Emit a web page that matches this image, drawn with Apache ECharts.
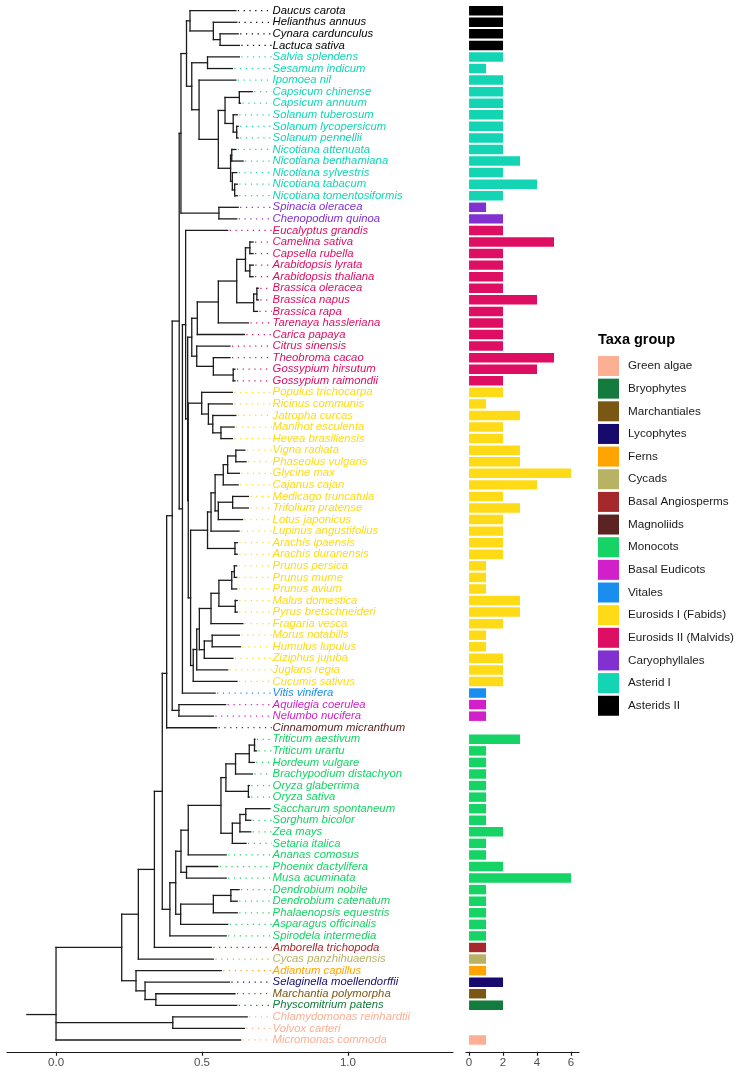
<!DOCTYPE html>
<html><head><meta charset="utf-8">
<script src="https://cdn.jsdelivr.net/npm/echarts@6/dist/echarts.min.js"></script>
<style>html,body{margin:0;padding:0;background:#fff}#c{width:737px;height:1072px}</style>
</head><body><div id="c"></div>
<script>
// ---------------- DATA ----------------
const taxa = ["Daucus carota","Helianthus annuus","Cynara cardunculus","Lactuca sativa","Salvia splendens","Sesamum indicum","Ipomoea nil","Capsicum chinense","Capsicum annuum","Solanum tuberosum","Solanum lycopersicum","Solanum pennellii","Nicotiana attenuata","Nicotiana benthamiana","Nicotiana sylvestris","Nicotiana tabacum","Nicotiana tomentosiformis","Spinacia oleracea","Chenopodium quinoa","Eucalyptus grandis","Camelina sativa","Capsella rubella","Arabidopsis lyrata","Arabidopsis thaliana","Brassica oleracea","Brassica napus","Brassica rapa","Tarenaya hassleriana","Carica papaya","Citrus sinensis","Theobroma cacao","Gossypium hirsutum","Gossypium raimondii","Populus trichocarpa","Ricinus communis","Jatropha curcas","Manihot esculenta","Hevea brasiliensis","Vigna radiata","Phaseolus vulgaris","Glycine max","Cajanus cajan","Medicago truncatula","Trifolium pratense","Lotus japonicus","Lupinus angustifolius","Arachis ipaensis","Arachis duranensis","Prunus persica","Prunus mume","Prunus avium","Malus domestica","Pyrus bretschneideri","Fragaria vesca","Morus notabilis","Humulus lupulus","Ziziphus jujuba","Juglans regia","Cucumis sativus","Vitis vinifera","Aquilegia coerulea","Nelumbo nucifera","Cinnamomum micranthum","Triticum aestivum","Triticum urartu","Hordeum vulgare","Brachypodium distachyon","Oryza glaberrima","Oryza sativa","Saccharum spontaneum","Sorghum bicolor","Zea mays","Setaria italica","Ananas comosus","Phoenix dactylifera","Musa acuminata","Dendrobium nobile","Dendrobium catenatum","Phalaenopsis equestris","Asparagus officinalis","Spirodela intermedia","Amborella trichopoda","Cycas panzhihuaensis","Adiantum capillus","Selaginella moellendorffii","Marchantia polymorpha","Physcomitrium patens","Chlamydomonas reinhardtii","Volvox carteri","Micromonas commoda"];

const groupNames = ["Green algae","Bryophytes","Marchantiales","Lycophytes","Ferns","Cycads","Basal Angiosperms","Magnoliids","Monocots","Basal Eudicots","Vitales","Eurosids I (Fabids)","Eurosids II (Malvids)","Caryophyllales","Asterid I","Asterids II"];
const groupColors = ["#FDAF93","#137B3D","#7B5716","#160B6D","#FFA400","#B8B264","#A5282D","#5C2323","#15D465","#D21FCA","#198EEF","#FFDA17","#DE0E63","#8031D0","#13D5B4","#000000"];

// group index (into groupNames) of each taxon, in taxa order
const taxaGroup = [15,15,15,15, 14,14,14,14,14,14,14,14,14,14,14,14,14, 13,13,
  12,12,12,12,12,12,12,12,12,12,12,12,12,12,
  11,11,11,11,11,11,11,11,11,11,11,11,11,11,11,11,11,11,11,11,11,11,11,11,11,11,
  10, 9,9, 7,
  8,8,8,8,8,8,8,8,8,8,8,8,8,8,8,8,8,8,
  6,5,4,3,2,1,0,0,0];

const geneCount = [2,2,2,2, 2,1,2,2,2,2,2,2,2,3,2,4,2, 1,2,
  2,5,2,2,2,2,4,2,2,2,2,5,4,2,
  2,1,3,2,2,3,3,6,4,2,3,2,2,2,2,1,1,1,3,3,2,1,1,2,2,2,
  1, 1,1, 0,
  3,1,1,1,1,1,1,1,2,1,1,2,6,1,1,1,1,1,
  1,1,1,2,1,2,0,0,1];

// tree (absolute node depths after ':')
const cladeAsteridsII = "(Daucus carota:0.616,(Helianthus annuus:0.619,(Cynara cardunculus:0.624,Lactuca sativa:0.628)n:0.562)n:0.539)n:0.459";
const cladeAsteridI = "((Salvia splendens:0.628,Sesamum indicum:0.604)n:0.519,(Ipomoea nil:0.616,(((Capsicum chinense:0.672,Capsicum annuum:0.632)n:0.628,(Solanum tuberosum:0.621,(Solanum lycopersicum:0.624,Solanum pennellii:0.624)n:0.619)n:0.607)n:0.579,((Nicotiana attenuata:0.616,Nicotiana benthamiana:0.641)n:0.602,(Nicotiana sylvestris:0.619,(Nicotiana tabacum:0.621,Nicotiana tomentosiformis:0.621)n:0.612)n:0.604)n:0.598)n:0.556)n:0.490)n:0.465";
const cladeCaryo = "(Spinacia oleracea:0.624,Chenopodium quinoa:0.619)n:0.558";
const cladeMalvids = "((((((Camelina sativa:0.675,Capsella rubella:0.675)n:0.664,(Arabidopsis lyrata:0.676,Arabidopsis thaliana:0.675)n:0.664)n:0.649,((Brassica oleracea:0.693,Brassica napus:0.693)n:0.688,Brassica rapa:0.690)n:0.677)n:0.619,Tarenaya hassleriana:0.659)n:0.556,Carica papaya:0.645)n:0.484,(Citrus sinensis:0.596,(Theobroma cacao:0.596,(Gossypium hirsutum:0.613,Gossypium raimondii:0.613)n:0.607)n:0.539)n:0.482)n:0.465";
const cladeMalpighiales = "(Populus trichocarpa:0.604,(Ricinus communis:0.604,(Jatropha curcas:0.616,(Manihot esculenta:0.610,Hevea brasiliensis:0.604)n:0.565)n:0.537)n:0.522)n:0.499";
const cladeFabales = "((((((Vigna radiata:0.647,Phaseolus vulgaris:0.651)n:0.616,Glycine max:0.628)n:0.588,Cajanus cajan:0.624)n:0.573,((Medicago truncatula:0.659,Trifolium pratense:0.659)n:0.605,Lotus japonicus:0.639)n:0.556)n:0.545,Lupinus angustifolius:0.627)n:0.531,(Arachis ipaensis:0.621,Arachis duranensis:0.621)n:0.613)n:0.519";
const cladeRosales = "(((((((Prunus persica:0.619,Prunus mume:0.619)n:0.611,Prunus avium:0.619)n:0.602,(Malus domestica:0.621,Pyrus bretschneideri:0.621)n:0.614)n:0.558,Fragaria vesca:0.640)n:0.531,((Morus notabilis:0.628,Humulus lupulus:0.632)n:0.535,Ziziphus jujuba:0.606)n:0.508)n:0.491,Juglans regia:0.588)n:0.482,Cucumis sativus:0.620)n:0.470";
const cladeMonocots = "(((((((((Triticum aestivum:0.681,Triticum urartu:0.687)n:0.680,Hordeum vulgare:0.679)n:0.662,Brachypodium distachyon:0.673)n:0.615,(Oryza glaberrima:0.662,Oryza sativa:0.662)n:0.659)n:0.582,(((Saccharum spontaneum:0.733,Sorghum bicolor:0.667)n:0.650,Zea mays:0.667)n:0.630,Setaria italica:0.651)n:0.604)n:0.565,Ananas comosus:0.583)n:0.453,(Phoenix dactylifera:0.554,Musa acuminata:0.583)n:0.447)n:0.428,(((Dendrobium nobile:0.627,Dendrobium catenatum:0.621)n:0.599,Phalaenopsis equestris:0.621)n:0.539,Asparagus officinalis:0.588)n:0.427)n:0.410,Spirodela intermedia:0.583)n:0.390";
const cladeFernsBryo = "(Adiantum capillus:0.566,(Selaginella moellendorffii:0.594,(Marchantia polymorpha:0.613,Physcomitrium patens:0.619)n:0.342)n:0.305)n:0.274";
const cladeAlgae = "(Chlamydomonas reinhardtii:0.655,Volvox carteri:0.645)n:0.400,Micromonas commoda:0.632";

const treeNewick =
 "((((((((((" + cladeAsteridsII + "," + cladeAsteridI + ")n:0.447," + cladeCaryo + ")n:0.428," +
 "((Eucalyptus grandis:0.588,(" + cladeMalvids + ",(" + cladeMalpighiales + ",(" + cladeFabales + "," + cladeRosales + ")n:0.461)n:0.453)n:0.451)n:0.444,Vitis vinifera:0.545)n:0.433)A:0.422," +
 "(Aquilegia coerulea:0.581,Nelumbo nucifera:0.539)n:0.421)B:0.398," +
 "Cinnamomum micranthum:0.550)C:0.379," + cladeMonocots + ")D:0.364," +
 "Amborella trichopoda:0.532)E:0.337,Cycas panzhihuaensis:0.539)F:0.282," + cladeFernsBryo + ")G:0.225," +
 cladeAlgae + ")ROOT:0";

const nodeYOverride = {C: 58.3, ROOT: 87.8};   // internal node heights (tip rows)
const rootEdgeStart = -0.1;
const tipAlignX = 0.739;
const labelX = 0.742;
const treeTicks = [0, 0.5, 1.0];
const barTicks = [0, 2, 4, 6];

// ---------------- TREE LAYOUT ----------------
function parseNewick(s){
  let i = 0;
  function node(){
    const n = {children: []};
    if (s[i] === '('){
      i++;
      n.children.push(node());
      while (s[i] === ','){ i++; n.children.push(node()); }
      i++;
    }
    let name = '';
    while (i < s.length && !':,()'.includes(s[i])) name += s[i++];
    n.name = name.trim();
    if (s[i] === ':'){ i++; let num = ''; while (i < s.length && !',()'.includes(s[i])) num += s[i++]; n.x = parseFloat(num); }
    return n;
  }
  return node();
}
const root = parseNewick(treeNewick);
const segs = [];   // [x1,y1,x2,y2]
const tips = [];   // [tipX, row, groupIdx]
function layout(n){
  if (!n.children.length){
    const idx = taxa.indexOf(n.name);
    n.y = idx + 1;
    tips.push([n.x, n.y, taxaGroup[idx]]);
    return;
  }
  n.children.forEach(layout);
  const ys = n.children.map(c => c.y);
  const lo = Math.min(...ys), hi = Math.max(...ys);
  n.y = (nodeYOverride[n.name] !== undefined) ? nodeYOverride[n.name] : (lo + hi) / 2;
  segs.push([n.x, lo, n.x, hi]);
  n.children.forEach(c => segs.push([n.x, c.y, c.x, c.y]));
}
layout(root);
segs.push([rootEdgeStart, root.y, root.x, root.y]);

// ---------------- CHART ----------------
const chart = echarts.init(document.getElementById('c'), null, {renderer: 'canvas'});
const FONT = '"Liberation Sans", Arial, Helvetica, sans-serif';
const gridTop = 4.92, gridH = 1040.85;
const axisCommon = {
  axisLine: {show: true, lineStyle: {color: '#1a1a1a', width: 1.2}},
  axisTick: {show: true, length: 4, lineStyle: {color: '#1a1a1a', width: 1.2}},
  splitLine: {show: false},
  offset: 6
};

const barSeries = groupNames.map((g, gi) => ({
  name: g, type: 'bar', xAxisIndex: 1, yAxisIndex: 1, stack: 'cnt',
  barWidth: '82%', itemStyle: {color: groupColors[gi]},
  data: taxa.map((t, i) => taxaGroup[i] === gi ? geneCount[i] : '-'),
  animation: false
}));

chart.setOption({
  animation: false,
  backgroundColor: '#fff',
  title: {text: 'Taxa group', left: 598, top: 332, padding: 0,
    textStyle: {fontSize: 14.5, fontWeight: 'bold', color: '#000', fontFamily: FONT}},
  legend: {
    data: groupNames.map(g => ({name: g, icon: 'rect'})),
    orient: 'vertical', left: 598, top: 356, padding: 0,
    itemWidth: 21, itemHeight: 20, itemGap: 2.65,
    textStyle: {fontSize: 11.7, color: '#1a1a1a', fontFamily: FONT, padding: [0, 0, 0, 4]},
    selectedMode: false
  },
  grid: [
    {left: 7, top: gridTop, width: 446, height: gridH},
    {left: 466, top: gridTop, width: 113, height: gridH}
  ],
  xAxis: [
    Object.assign({type: 'value', gridIndex: 0, min: -0.168, max: 1.36}, axisCommon, {
      axisTick: Object.assign({}, axisCommon.axisTick, {customValues: treeTicks}),
      axisLabel: {customValues: treeTicks, formatter: v => Number(v).toFixed(1), color: '#4d4d4d', fontSize: 11.5, fontFamily: FONT, margin: 5}
    }),
    Object.assign({type: 'value', gridIndex: 1, min: -0.18, max: 6.47}, axisCommon, {
      axisTick: Object.assign({}, axisCommon.axisTick, {customValues: barTicks}),
      axisLabel: {customValues: barTicks, formatter: v => String(v), color: '#4d4d4d', fontSize: 11.5, fontFamily: FONT, margin: 5}
    })
  ],
  yAxis: [
    {type: 'value', gridIndex: 0, min: 0.5, max: 90.5, inverse: true, show: false},
    {type: 'category', gridIndex: 1, data: taxa, inverse: true, show: false}
  ],
  series: [
    {
      type: 'custom', xAxisIndex: 0, yAxisIndex: 0, data: segs, clip: false, silent: true,
      encode: {x: [0, 2], y: [1, 3]},
      renderItem: (p, api) => {
        const a = api.coord([api.value(0), api.value(1)]);
        const b = api.coord([api.value(2), api.value(3)]);
        return {type: 'line', shape: {x1: a[0], y1: a[1], x2: b[0], y2: b[1]},
          style: {stroke: '#1c1c1c', lineWidth: 1.3, lineCap: 'square'}};
      }
    },
    {
      type: 'custom', xAxisIndex: 0, yAxisIndex: 0, clip: false, silent: true,
      data: tips.map(t => [t[0], t[1], t[2]]),
      encode: {x: 0, y: 1},
      renderItem: (p, api) => {
        const a = api.coord([api.value(0), api.value(1)]);
        const b = api.coord([tipAlignX, api.value(1)]);
        return {type: 'line', shape: {x1: a[0] + 2, y1: a[1], x2: b[0], y2: b[1]},
          style: {stroke: groupColors[api.value(2)], lineWidth: 1.25, lineDash: [1.2, 4.6]}};
      }
    },
    {
      type: 'custom', xAxisIndex: 0, yAxisIndex: 0, clip: false, silent: true,
      data: taxa.map((t, i) => [labelX, i + 1, taxaGroup[i]]),
      encode: {x: 0, y: 1},
      renderItem: (p, api) => {
        const a = api.coord([api.value(0), api.value(1)]);
        return {type: 'text', x: a[0], y: a[1],
          style: {text: taxa[p.dataIndex], fill: groupColors[api.value(2)],
            font: 'italic 11.3px ' + FONT, align: 'left', verticalAlign: 'middle'}};
      }
    }
  ].concat(barSeries)
});
</script>
</body></html>
